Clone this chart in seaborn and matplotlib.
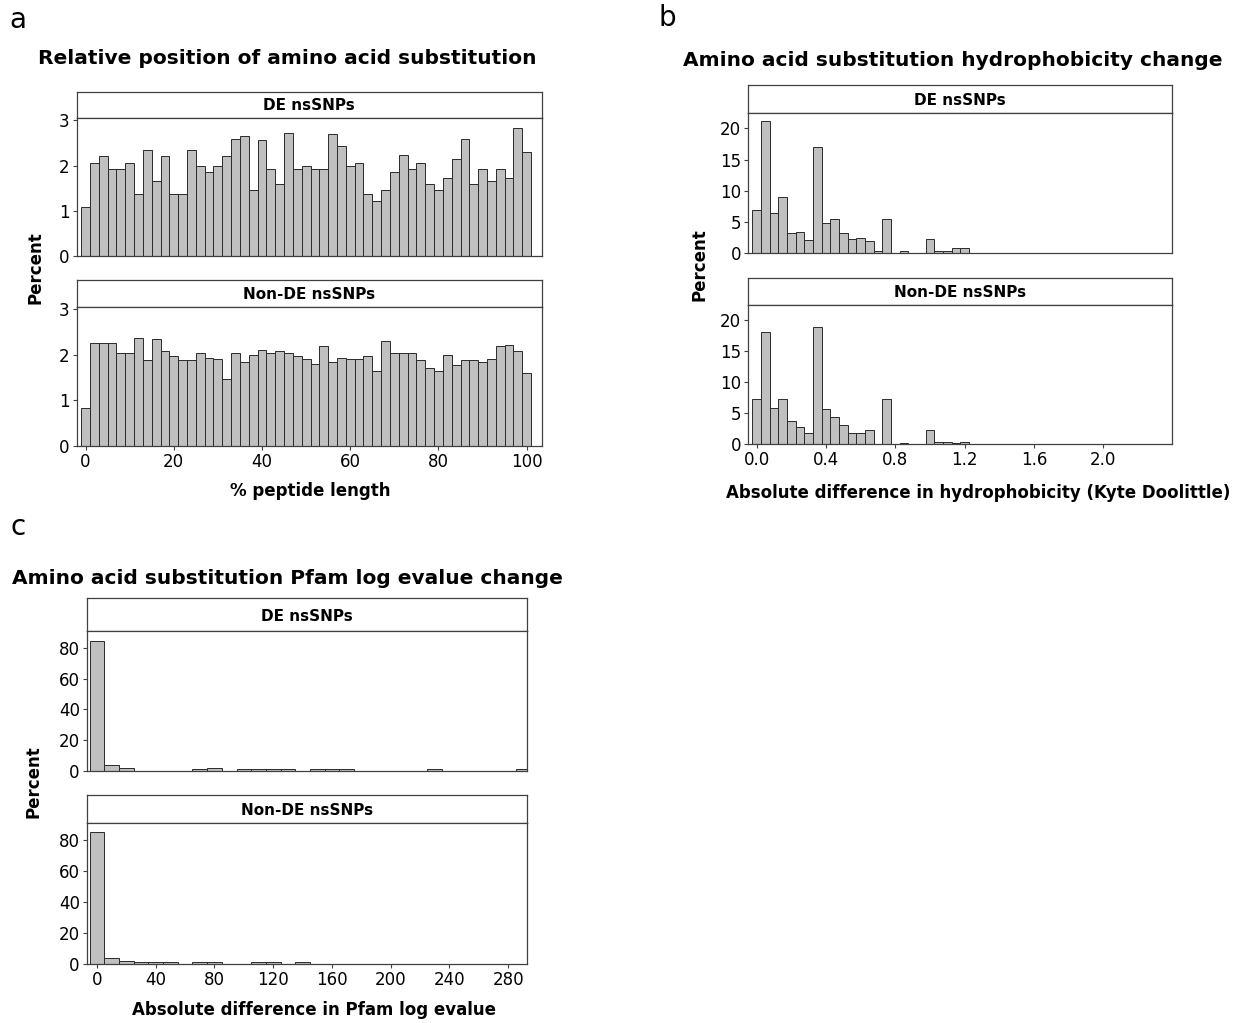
import matplotlib
matplotlib.use("Agg")
import matplotlib.pyplot as plt
import numpy as np
import pandas as pd
import seaborn as sns

# ---- data (percent per bin) ----
groups = ["DE nsSNPs", "Non-DE nsSNPs"]

# panel a: relative position, bins of 2 % centred at 0, 2, ..., 100
pos_centers = np.arange(0, 101, 2)
pos_de = [1.07, 2.06, 2.20, 1.93, 1.93, 2.06, 1.36, 2.35, 1.66, 2.20,
          1.36, 1.36, 2.35, 2.00, 1.86, 2.00, 2.20, 2.58, 2.65, 1.46,
          2.56, 1.93, 1.60, 2.72, 1.93, 2.00, 1.92, 1.93, 2.70, 2.44,
          2.00, 2.06, 1.36, 1.22, 1.46, 1.86, 2.24, 1.92, 2.06, 1.60,
          1.46, 1.73, 2.14, 2.58, 1.58, 1.93, 1.66, 1.92, 1.73, 2.84,
          2.30]
pos_nonde = [0.83, 2.25, 2.25, 2.25, 2.03, 2.03, 2.37, 1.88, 2.35, 2.09,
             1.97, 1.88, 1.88, 2.03, 1.93, 1.90, 1.47, 2.03, 1.85, 1.99,
             2.10, 2.05, 2.08, 2.03, 1.97, 1.90, 1.79, 2.19, 1.85, 1.93,
             1.90, 1.90, 1.97, 1.65, 2.30, 2.05, 2.03, 2.05, 1.88, 1.70,
             1.65, 1.99, 1.77, 1.88, 1.88, 1.85, 1.90, 2.19, 2.22, 2.09,
             1.59]

# panel b: hydrophobicity change, bins of 0.05 centred at 0.00 ... 1.20
hyd_centers = np.round(np.arange(0, 1.21, 0.05), 2)
hyd_de = [6.9, 21.2, 6.5, 9.0, 3.2, 3.4, 2.1, 17.0, 4.8, 5.5,
          3.2, 2.3, 2.45, 1.9, 0.3, 5.5, 0, 0.4, 0, 0,
          2.25, 0.3, 0.3, 0.8, 0.8]
hyd_nonde = [7.2, 18.1, 5.75, 7.2, 3.7, 2.7, 1.8, 18.8, 5.6, 4.3,
             3.0, 1.8, 1.8, 2.2, 0, 7.2, 0, 0.2, 0, 0,
             2.2, 0.3, 0.3, 0.2, 0.3]

# panel c: Pfam log evalue change, bins of 10 centred at 0 ... 290
pfam_centers = np.arange(0, 291, 10)
pfam_de = [84.3, 3.7, 1.5, 0, 0, 0, 0, 0.9, 1.7, 0,
           0.9, 0.9, 0.9, 0.9, 0, 0.9, 0.9, 0.9, 0, 0,
           0, 0, 0, 0.9, 0, 0, 0, 0, 0, 0.9]
pfam_nonde = [85.6, 3.7, 1.7, 1.1, 1.1, 1.1, 0, 1.1, 1.1, 0,
              0, 1.1, 1.1, 0, 1.1, 0, 0, 0, 0, 0,
              0, 0, 0, 0, 0, 0, 0, 0, 0, 0]

W, H = 1244, 1023
sns.set_style("white")
plt.rcParams['font.family'] = ['DejaVu Sans']
plt.rcParams.update({"text.color": "black", "xtick.color": "black",
                     "ytick.color": "black", "axes.labelcolor": "black"})
fig = plt.figure(figsize=(W / 100, H / 100), dpi=100)

BAR = "#c0c0c0"
EDGE = "#2a2a2a"
FRAME = "#404040"


def box(l, t, r, b):
    return [l / W, 1 - b / H, (r - l) / W, (b - t) / H]


def panel(l, r, rows, centers, width, series, xlim, ylim, yticks, xticks, xfmt):
    axes = []
    for (st, pt, pb), name, vals in zip(rows, groups, series):
        strip = fig.add_axes(box(l, st, r, pt))
        strip.set_xticks([])
        strip.set_yticks([])
        for s in strip.spines.values():
            s.set_color(FRAME)
            s.set_linewidth(0.9)
        strip.text(0.5, 0.45, name, ha="center", va="center",
                   fontsize=11, fontweight="bold", transform=strip.transAxes)

        ax = fig.add_axes(box(l, pt, r, pb))
        df = pd.DataFrame({"x": centers, "pct": vals})
        edges = [float(c) - width / 2 for c in centers] + [float(centers[-1]) + width / 2]
        sns.histplot(data=df, x="x", weights="pct", bins=edges, ax=ax,
                     color=BAR, edgecolor=EDGE, linewidth=0.7, alpha=1)
        ax.set_xlim(*xlim)
        ax.set_ylim(*ylim)
        ax.set_yticks(yticks)
        ax.set_ylabel("")
        ax.set_xlabel("")
        for s in ax.spines.values():
            s.set_color(FRAME)
            s.set_linewidth(0.9)
        ax.tick_params(axis="y", length=3, width=0.8, labelsize=12,
                       left=True, color=FRAME, pad=2)
        ax.set_xticks(xticks)
        ax.tick_params(axis="x", length=3, width=0.8, labelsize=12,
                       bottom=True, color=FRAME, pad=2)
        ax.set_xticklabels([xfmt.format(v) for v in xticks])
        axes.append(ax)
    axes[0].tick_params(axis="x", bottom=False, labelbottom=False)
    return axes


# panel a
panel(76.7, 541.7, [(91.7, 117.7, 255.7), (280, 306.7, 445.7)],
      pos_centers, 2, [pos_de, pos_nonde], (-2, 103.4), (0, 3.06),
      [0, 1, 2, 3], [0, 20, 40, 60, 80, 100], "{:d}")
fig.text(18 / W, 1 - 20 / H, "a", fontsize=20, ha="center", va="center")
fig.text(287 / W, 1 - 58 / H, "Relative position of amino acid substitution",
         fontsize=14.5, fontweight="bold", ha="center", va="center")
fig.text(310 / W, 1 - 491 / H, "% peptide length", fontsize=12,
         fontweight="bold", ha="center", va="center")
fig.text(35 / W, 1 - 268 / H, "Percent", fontsize=12, fontweight="bold",
         rotation=90, ha="center", va="center")

# panel b
panel(748.3, 1171.7, [(85, 113.3, 253.3), (278.3, 305, 444)],
      hyd_centers, 0.05, [hyd_de, hyd_nonde], (-0.048, 2.395), (0, 22.4),
      [0, 5, 10, 15, 20], [0.0, 0.4, 0.8, 1.2, 1.6, 2.0], "{:.1f}")
fig.text(667 / W, 1 - 18 / H, "b", fontsize=20, ha="center", va="center")
fig.text(953 / W, 1 - 60 / H, "Amino acid substitution hydrophobicity change",
         fontsize=14.5, fontweight="bold", ha="center", va="center")
fig.text(978 / W, 1 - 493 / H,
         "Absolute difference in hydrophobicity (Kyte Doolittle)",
         fontsize=12, fontweight="bold", ha="center", va="center")
fig.text(700 / W, 1 - 265 / H, "Percent", fontsize=12, fontweight="bold",
         rotation=90, ha="center", va="center")

# panel c
panel(86.7, 527.3, [(598.3, 631, 770.7), (795, 823.3, 964)],
      pfam_centers, 10, [pfam_de, pfam_nonde], (-7, 293), (0, 91),
      [0, 20, 40, 60, 80], [0, 40, 80, 120, 160, 200, 240, 280], "{:d}")
fig.text(18 / W, 1 - 527 / H, "c", fontsize=20, ha="center", va="center")
fig.text(287 / W, 1 - 578 / H, "Amino acid substitution Pfam log evalue change",
         fontsize=14.5, fontweight="bold", ha="center", va="center")
fig.text(314 / W, 1 - 1010 / H, "Absolute difference in Pfam log evalue",
         fontsize=12, fontweight="bold", ha="center", va="center")
fig.text(33 / W, 1 - 782 / H, "Percent", fontsize=12, fontweight="bold",
         rotation=90, ha="center", va="center")

fig.savefig("out.png", dpi=100)
